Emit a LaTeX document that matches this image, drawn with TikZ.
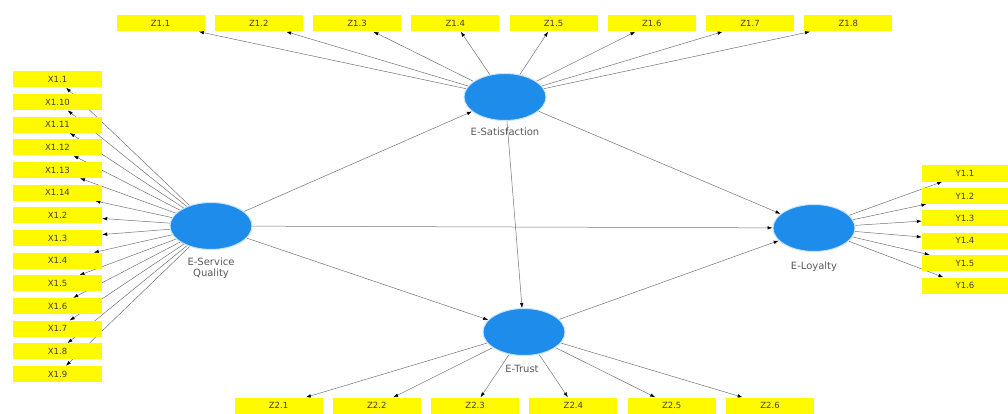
\documentclass[tikz,border=0pt]{standalone}
\usepackage{fontspec}
\setmainfont{DejaVu Sans}
\usetikzlibrary{shapes.geometric,arrows.meta,backgrounds}
\definecolor{plsblue}{RGB}{30,140,235}
\definecolor{plsyellow}{RGB}{255,250,0}
\tikzset{
  ind/.style={rectangle, fill=plsyellow, minimum width=88pt, minimum height=16pt,
    inner sep=0pt, font=\fontsize{8.5}{9}\selectfont, text=black!75},
  lv/.style={ellipse, fill=plsblue, draw=plsblue!25, line width=1pt,
    minimum width=82pt, minimum height=47pt, inner sep=0pt},
  lvlab/.style={font=\fontsize{10}{11.5}\selectfont, text=black!65, align=center},
  lnk/.style={draw=black!55, line width=0.5pt, -{Latex[length=5pt,width=3.5pt,color=black]}}
}
\begin{document}
\begin{tikzpicture}[x=1pt,y=-1pt]
  \useasboundingbox (0,0) rectangle (1008,414);
  % latent variables
  \node[lv] (esq) at (211,226) {};
  \node[lv] (esat) at (505,97) {};
  \node[lv] (etr) at (524,332) {};
  \node[lv] (eloy) at (814,228) {};
  \node[lvlab, anchor=north] (esqlab) at (211,254) {E-Service\\Quality};
  \node[lvlab, anchor=north] (esatlab) at (505,124) {E-Satisfaction};
  \node[lvlab, anchor=north] (etrlab) at (522,362) {E-Trust};
  \node[lvlab, anchor=north] (eloylab) at (814,258) {E-Loyalty};
  % indicators
  \foreach \lab [count=\i] in {1,10,11,12,13,14,2,3,4,5,6,7,8,9}
    \node[ind, minimum width=89pt] (x\i) at (57.5,{79.5+22.65*(\i-1)}) {X1.\lab};
  \foreach \i in {1,...,8}
    \node[ind] (za\i) at ({160.5+98.25*(\i-1)},23.5) {Z1.\i};
  \foreach \i in {1,...,6}
    \node[ind] (zb\i) at ({278.5+98.3*(\i-1)},405.5) {Z2.\i};
  \foreach \i in {1,...,6}
    \node[ind, minimum width=86pt] (y\i) at (965,{173.5+22.4*(\i-1)}) {Y1.\i};
  % loadings and paths
  \begin{scope}[on background layer]
    \foreach \i in {1,...,14} \draw[lnk] (esq) -- (x\i);
    \foreach \i in {1,...,8} \draw[lnk] (esat) -- (za\i);
    \foreach \i in {1,...,6} \draw[lnk] (etr) -- (zb\i);
    \foreach \i in {1,...,6} \draw[lnk] (eloy) -- (y\i);
    \draw[lnk] (esq) -- (esat);
    \draw[lnk] (esq) -- (eloy);
    \draw[lnk] (esq) -- (etr);
    \draw[lnk] (esat) -- (eloy);
    \draw[lnk] (esat) -- (etr);
    \draw[lnk] (etr) -- (eloy);
  \end{scope}
\end{tikzpicture}
\end{document}
